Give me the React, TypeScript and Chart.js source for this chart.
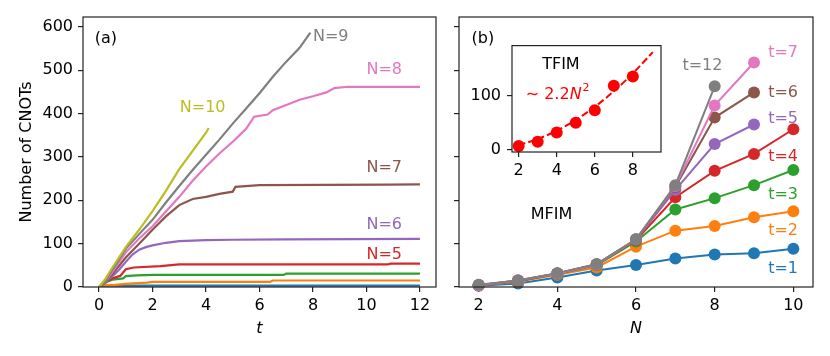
import React, { useEffect, useRef } from 'react';
import { Chart, registerables } from 'chart.js';

Chart.register(...registerables);

const FONT = '"DejaVu Sans", sans-serif';
const FS = 16;

const BLUE = '#1f77b4';
const ORANGE = '#ff7f0e';
const GREEN = '#2ca02c';
const RED = '#d62728';
const PURPLE = '#9467bd';
const BROWN = '#8c564b';
const PINK = '#e377c2';
const GRAY = '#7f7f7f';
const OLIVE = '#bcbd22';

// ---------- Panel (a): CNOT count vs time t, for each N ----------
const tN2 = [0, 0.1, 0.3, 12];
const cN2 = [0, 2, 3, 3];
const tN3 = [0, 0.2, 0.6, 1.0, 1.8, 2.0, 6.4, 6.5, 12];
const cN3 = [0, 4, 5, 7, 10, 12, 12, 15, 15];
const tN4 = [0, 0.3, 0.5, 0.9, 1.0, 1.4, 2.0, 6.9, 7.0, 12];
const cN4 = [0, 12, 17, 20, 25, 27, 28, 28, 31, 31];
const tN5 = [0, 0.25, 0.5, 0.8, 1.0, 1.3, 2.3, 2.6, 3.0, 10.8, 10.9, 12];
const cN5 = [0, 12, 20, 26, 41, 45, 48, 50, 52, 52, 54, 54];
const tN6 = [0, 0.25, 0.5, 0.75, 1.0, 1.25, 1.5, 1.75, 2.0, 2.5, 3.0, 4.0, 5.0, 7.0, 12];
const cN6 = [0, 12, 25, 40, 58, 75, 86, 92, 96, 102, 106, 108, 109, 110, 111];
const tN7 = [0, 0.25, 0.5, 1.0, 1.5, 2.0, 2.5, 3.0, 3.5, 4.0, 4.5, 5.0, 5.1, 6.0, 10.8, 12];
const cN7 = [0, 12, 30, 68, 100, 132, 163, 189, 203, 208, 215, 220, 231, 235, 236, 237];
const tN8 = [0, 0.25, 0.5, 1.0, 1.5, 2.0, 2.5, 3.0, 3.5, 4.0, 4.5, 5.0, 5.5, 5.8, 6.3, 6.5, 7.0, 7.5, 8.0, 8.5, 8.8, 9.3, 12];
const cN8 = [0, 14, 35, 80, 112, 140, 174, 208, 245, 278, 308, 335, 365, 393, 398, 408, 420, 432, 440, 449, 459, 462, 462];
const tN9 = [0, 0.25, 0.5, 1.0, 1.5, 2.0, 2.5, 3.0, 3.5, 4.0, 4.5, 5.0, 5.5, 6.0, 6.5, 7.0, 7.5, 7.9];
const cN9 = [0, 15, 40, 88, 122, 155, 195, 233, 270, 305, 340, 377, 412, 447, 485, 520, 552, 587];
const tN10 = [0, 0.25, 0.5, 1.0, 1.5, 2.0, 2.5, 3.0, 3.5, 4.0, 4.1];
const cN10 = [0, 20, 45, 92, 132, 175, 222, 272, 314, 356, 367];

const seriesA = [
  { t: tN2, c: cN2, color: BLUE },
  { t: tN3, c: cN3, color: ORANGE },
  { t: tN4, c: cN4, color: GREEN },
  { t: tN5, c: cN5, color: RED },
  { t: tN6, c: cN6, color: PURPLE },
  { t: tN7, c: cN7, color: BROWN },
  { t: tN8, c: cN8, color: PINK },
  { t: tN9, c: cN9, color: GRAY },
  { t: tN10, c: cN10, color: OLIVE },
];

const ticksAX = [0, 2, 4, 6, 8, 10, 12];
const ticksY = [0, 100, 200, 300, 400, 500, 600];

const labelsA = [
  { text: '(a)', x: -0.16, y: 577, color: '#000', align: 'left' },
  { text: 'N=10', x: 3.02, y: 418, color: OLIVE, align: 'left' },
  { text: 'N=9', x: 8.0, y: 580, color: GRAY, align: 'left' },
  { text: 'N=8', x: 10.0, y: 505, color: PINK, align: 'left' },
  { text: 'N=7', x: 10.0, y: 279, color: BROWN, align: 'left' },
  { text: 'N=6', x: 10.0, y: 148, color: PURPLE, align: 'left' },
  { text: 'N=5', x: 10.0, y: 78, color: RED, align: 'left' },
];

// ---------- Panel (b): CNOT count vs N, for each t ----------
const nFull = [2, 3, 4, 5, 6, 7, 8, 9, 10];
const nTo9 = [2, 3, 4, 5, 6, 7, 8, 9];
const nTo8 = [2, 3, 4, 5, 6, 7, 8];
const cT1 = [3, 8, 22, 38, 51, 66, 75, 78, 88];
const cT2 = [4, 12, 28, 45, 93, 130, 141, 161, 175];
const cT3 = [4, 14, 30, 50, 105, 179, 205, 235, 270];
const cT4 = [4, 14, 31, 52, 108, 207, 268, 307, 364];
const cT5 = [4, 15, 31, 52, 109, 224, 330, 375];
const cT6 = [4, 15, 31, 52, 110, 231, 391, 449];
const cT7 = [4, 15, 31, 52, 110, 233, 419, 518];
const cT12 = [5, 15, 32, 53, 110, 235, 463];

const seriesB = [
  { n: nFull, c: cT1, color: BLUE },
  { n: nFull, c: cT2, color: ORANGE },
  { n: nFull, c: cT3, color: GREEN },
  { n: nFull, c: cT4, color: RED },
  { n: nTo9, c: cT5, color: PURPLE },
  { n: nTo9, c: cT6, color: BROWN },
  { n: nTo9, c: cT7, color: PINK },
  { n: nTo8, c: cT12, color: GRAY },
];

const ticksBX = [2, 4, 6, 8, 10];

const labelsB = [
  { text: '(b)', x: 1.82, y: 577, color: '#000', align: 'left' },
  { text: 't=7', x: 9.36, y: 545, color: PINK, align: 'left' },
  { text: 't=12', x: 7.18, y: 515, color: GRAY, align: 'left' },
  { text: 't=6', x: 9.36, y: 453, color: BROWN, align: 'left' },
  { text: 't=5', x: 9.36, y: 393, color: PURPLE, align: 'left' },
  { text: 't=4', x: 9.36, y: 305, color: RED, align: 'left' },
  { text: 't=3', x: 9.36, y: 216, color: GREEN, align: 'left' },
  { text: 't=2', x: 9.36, y: 133, color: ORANGE, align: 'left' },
  { text: 't=1', x: 9.36, y: 45, color: BLUE, align: 'left' },
  { text: 'MFIM', x: 3.85, y: 170, color: '#000', align: 'center' },
];

// ---------- Inset: TFIM ----------
const tfimN = [2, 3, 4, 5, 6, 7, 8];
const tfimC = [7, 15, 32, 50, 73, 118, 135];
const fitN = [2, 3, 4, 5, 6, 7, 8, 9.05];
const fitC = [8.8, 19.8, 35.2, 55, 79.2, 107.8, 140.8, 180];
const ticksInX = [2, 4, 6, 8];
const ticksInY = [0, 100];

const labelsIn = [{ text: 'TFIM', x: 4.22, y: 160, color: '#000', align: 'center' }];

// ---------- helpers ----------
function fixedTicks(vals: number[]) {
  return (s: any) => {
    s.ticks = vals.map((v) => ({ value: v }));
  };
}

function textPlugin(labels: any[], extra?: (chart: any) => void) {
  return {
    id: 'decor',
    afterDatasetsDraw(chart: any) {
      const ctx = chart.ctx;
      const { left, right, top, bottom } = chart.chartArea;
      ctx.save();
      ctx.strokeStyle = '#222';
      ctx.lineWidth = 1.2;
      ctx.strokeRect(left, top, right - left, bottom - top);
      ctx.font = `${FS}px ${FONT}`;
      ctx.textBaseline = 'alphabetic';
      for (const l of labels) {
        const px = chart.scales.x.getPixelForValue(l.x);
        const py = chart.scales.y.getPixelForValue(l.y);
        ctx.fillStyle = l.color;
        ctx.textAlign = l.align;
        ctx.fillText(l.text, px, py + FS * 0.365);
      }
      if (extra) extra(chart);
      ctx.restore();
    },
  };
}

function axisCommon(min: number, max: number, ticks: number[], showLabels: boolean, pad: number) {
  return {
    type: 'linear',
    min,
    max,
    afterBuildTicks: fixedTicks(ticks),
    grid: { drawOnChartArea: false, drawTicks: true, tickLength: 5, color: '#222', lineWidth: 1.2 },
    border: { display: false },
    ticks: {
      display: showLabels,
      color: '#000',
      font: { family: FONT, size: FS },
      padding: pad,
      maxRotation: 0,
      autoSkip: false,
    },
  };
}

function ChartCanvas({ config, left, top, width, height }: any) {
  const ref = useRef<HTMLCanvasElement | null>(null);
  useEffect(() => {
    if (!ref.current) return;
    const ch = new Chart(ref.current, config);
    return () => ch.destroy();
  }, []);
  return (
    <canvas
      ref={ref}
      width={width}
      height={height}
      style={{ position: 'absolute', left, top, width, height }}
    />
  );
}

function layoutOpts(W: number, H: number, area: { l: number; r: number; t: number; b: number }) {
  return {
    padding: { left: 0, right: W - area.r, top: area.t, bottom: 0 },
    xFit: (s: any) => {
      s.height = H - area.b;
    },
    yFit: (s: any) => {
      s.width = area.l;
    },
  };
}

// Panel A config
const WA = 440, HA = 356;
const LA = layoutOpts(WA, HA, { l: 83, r: 436, t: 17, b: 287 });
const configA: any = {
  type: 'line',
  data: {
    datasets: seriesA.map((s, i) => ({
      data: s.t.map((t, k) => ({ x: t, y: s.c[k] })),
      borderColor: s.color,
      backgroundColor: s.color,
      borderWidth: 2.2,
      pointRadius: 0,
      fill: false,
      tension: 0,
      order: -i,
    })),
  },
  options: {
    animation: false,
    responsive: false,
    events: [],
    layout: { padding: LA.padding },
    plugins: { legend: { display: false }, tooltip: { enabled: false } },
    scales: {
      x: { ...axisCommon(-0.6, 12.6, ticksAX, true, 4), afterFit: LA.xFit },
      y: { ...axisCommon(0, 623, ticksY, true, 5), afterFit: LA.yFit },
    },
  },
  plugins: [
    textPlugin(labelsA, (chart: any) => {
      const ctx = chart.ctx;
      const { left, right, top, bottom } = chart.chartArea;
      ctx.fillStyle = '#000';
      ctx.textAlign = 'center';
      ctx.font = `italic ${FS}px ${FONT}`;
      ctx.fillText('t', (left + right) / 2, 333);
      ctx.font = `${FS}px ${FONT}`;
      ctx.save();
      ctx.translate(25 + FS * 0.365, (top + bottom) / 2);
      ctx.rotate(-Math.PI / 2);
      ctx.fillText('Number of CNOTs', 0, 0);
      ctx.restore();
    }),
  ],
};

// Panel B config
const WB = 390, HB = 356;
const LB = layoutOpts(WB, HB, { l: 19, r: 373, t: 17, b: 287 });
const configB: any = {
  type: 'line',
  data: {
    datasets: seriesB.map((s, i) => ({
      data: s.n.map((n, k) => ({ x: n, y: s.c[k] })),
      borderColor: s.color,
      backgroundColor: s.color,
      pointBackgroundColor: s.color,
      pointBorderColor: s.color,
      borderWidth: 2,
      pointRadius: 6,
      pointBorderWidth: 0,
      fill: false,
      tension: 0,
      order: -i,
      clip: false,
    })),
  },
  options: {
    animation: false,
    responsive: false,
    events: [],
    layout: { padding: LB.padding },
    plugins: { legend: { display: false }, tooltip: { enabled: false } },
    scales: {
      x: { ...axisCommon(1.5, 10.5, ticksBX, true, 4), afterFit: LB.xFit },
      y: { ...axisCommon(0, 623, ticksY, false, 5), afterFit: LB.yFit },
    },
  },
  plugins: [
    textPlugin(labelsB, (chart: any) => {
      const ctx = chart.ctx;
      const { left, right } = chart.chartArea;
      ctx.fillStyle = '#000';
      ctx.textAlign = 'center';
      ctx.font = `italic ${FS}px ${FONT}`;
      ctx.fillText('N', (left + right) / 2, 333);
    }),
  ],
};

// Inset config
const WI = 210, HI = 150;
const LI = layoutOpts(WI, HI, { l: 52, r: 201, t: 14, b: 122 });
const configIn: any = {
  type: 'line',
  data: {
    datasets: [
      {
        data: tfimN.map((n, k) => ({ x: n, y: tfimC[k] })),
        showLine: false,
        pointRadius: 6,
        pointBorderWidth: 0,
        pointBackgroundColor: '#ff0000',
        borderColor: '#ff0000',
        order: 1,
      },
      {
        data: fitN.map((n, k) => ({ x: n, y: fitC[k] })),
        borderColor: '#ff0000',
        borderWidth: 2,
        borderDash: [7, 3],
        pointRadius: 0,
        tension: 0.3,
        fill: false,
        order: 2,
      },
    ],
  },
  options: {
    animation: false,
    responsive: false,
    events: [],
    layout: { padding: LI.padding },
    plugins: { legend: { display: false }, tooltip: { enabled: false } },
    scales: {
      x: { ...axisCommon(1.65, 9.48, ticksInX, true, 4), afterFit: LI.xFit },
      y: { ...axisCommon(-4, 192, ticksInY, true, 6), afterFit: LI.yFit },
    },
  },
  plugins: [
    {
      id: 'bg',
      beforeDatasetsDraw(chart: any) {
        const { left, right, top, bottom } = chart.chartArea;
        const ctx = chart.ctx;
        ctx.save();
        ctx.fillStyle = '#fff';
        ctx.fillRect(left, top, right - left, bottom - top);
        ctx.restore();
      },
    },
    textPlugin(labelsIn, (chart: any) => {
      const ctx = chart.ctx;
      const px = chart.scales.x.getPixelForValue(2.37);
      const py = chart.scales.y.getPixelForValue(105) + FS * 0.365;
      ctx.fillStyle = '#ff0000';
      ctx.textAlign = 'left';
      let x = px;
      ctx.font = `${FS}px ${FONT}`;
      const p1 = '\u223C 2.2';
      ctx.fillText(p1, x, py);
      x += ctx.measureText(p1).width;
      ctx.font = `italic ${FS}px ${FONT}`;
      ctx.fillText('N', x, py);
      x += ctx.measureText('N').width + 1;
      ctx.font = `${Math.round(FS * 0.7)}px ${FONT}`;
      ctx.fillText('2', x, py - FS * 0.45);
    }),
  ],
};

export default function App() {
  return (
    <div style={{ position: 'fixed', left: 0, top: 0, width: 830, height: 356, background: '#fff' }}>
      <ChartCanvas config={configA} left={0} top={0} width={WA} height={HA} />
      <ChartCanvas config={configB} left={440} top={0} width={WB} height={HB} />
      <ChartCanvas config={configIn} left={460} top={30} width={WI} height={HI} />
    </div>
  );
}
